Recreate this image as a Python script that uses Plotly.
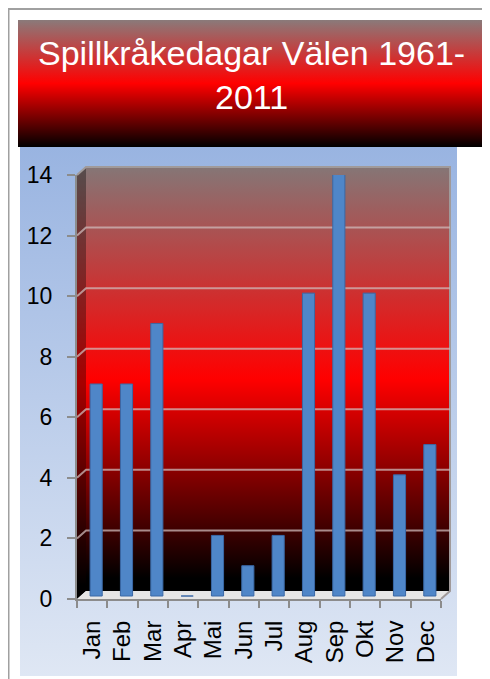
import base64
import plotly.graph_objects as go

# ---- data ----
months = ["Jan", "Feb", "Mar", "Apr", "Mai", "Jun", "Jul", "Aug", "Sep", "Okt", "Nov", "Dec"]
days = [7, 7, 9, 0, 2, 1, 2, 10, 14, 10, 4, 5]
y_ticks = [0, 2, 4, 6, 8, 10, 12, 14]
title_text = "Spillkråkedagar Välen 1961-<br>2011"

# ---- geometry (pixels, figure frame; page body adds an 8px margin) ----
W, H = 482, 671
L, R, T, B = 69, 433, 167, 591          # plot area
PW, PH = R - L, B - T
DX, DY = 9, 8                           # 3D depth offset
YMAX = 14
px_per_unit = PH / YMAX

def svg_background():
    wl, wt, wr, wb = L + DX, T - DY, R + DX, B - DY
    s = f'''<svg xmlns="http://www.w3.org/2000/svg" width="{W}" height="{H}" viewBox="0 0 {W} {H}">
<defs>
<linearGradient id="tg" x1="0" y1="0" x2="0" y2="1">
<stop offset="0" stop-color="#8a7a7a"/><stop offset="0.5" stop-color="#ff0000"/><stop offset="1" stop-color="#000000"/>
</linearGradient>
<linearGradient id="bg" x1="0" y1="0" x2="0" y2="1">
<stop offset="0" stop-color="#99b4e1"/><stop offset="1" stop-color="#dfe7f4"/>
</linearGradient>
<linearGradient id="wg" x1="0" y1="0" x2="0" y2="1">
<stop offset="0" stop-color="#857676"/><stop offset="0.5" stop-color="#ff0000"/><stop offset="0.97" stop-color="#000000"/><stop offset="1" stop-color="#000000"/>
</linearGradient>
</defs>
<rect x="12" y="139" width="437" height="529" fill="url(#bg)"/>
<rect x="10" y="12" width="466" height="127" fill="url(#tg)"/>
<rect x="{wl}" y="{wt}" width="{wr-wl}" height="{wb-wt}" fill="url(#wg)"/>
<polygon points="{L},{T} {wl},{wt} {wl},{wb} {L},{B}" fill="url(#wg)"/>
<polygon points="{L},{T} {wl},{wt} {wl},{wb} {L},{B}" fill="#000" fill-opacity="0.35"/>
<polygon points="{L},{B} {wl},{wb} {wr},{wb} {R},{B}" fill="#e6e6e6"/>
<polyline points="{L},{T} {wl},{wt} {wr},{wt} {wr},{wb} {R},{B}" fill="none" stroke="#a09a9a" stroke-width="2"/>
<polyline points="0.5,{H} 0.5,1 {W},1" fill="none" stroke="#a0a0a0" stroke-width="2"/>
</svg>'''
    return "data:image/svg+xml;base64," + base64.b64encode(s.encode("utf-8")).decode()

fig = go.Figure()
fig.add_trace(go.Bar(
    x=months, y=days,
    base=3 / px_per_unit,
    width=0.4, offset=-0.2 + 4 / (PW / len(months)),
    marker=dict(color="#4f86c8", line=dict(color="#3a68a6", width=1)),
    cliponaxis=False,
))

# gridlines on the back wall (3D offset)
shapes = []
for v in y_ticks[1:-1]:
    y1 = v + DY / px_per_unit
    shapes.append(dict(
        type="path", xref="paper", yref="y",
        path=f"M 0,{v} L {DX/PW},{y1} L {(PW+DX)/PW},{y1}",
        line=dict(color="rgba(205,185,185,0.75)", width=2), layer="below",
    ))

fig.update_layout(
    width=W, height=H,
    margin=dict(l=L, r=W - R, t=T, b=H - B, pad=0),
    paper_bgcolor="white", plot_bgcolor="rgba(0,0,0,0)",
    showlegend=False,
    font=dict(family="Liberation Sans, Arial, sans-serif", color="black"),
    annotations=[dict(text=title_text, showarrow=False, xref="paper", yref="paper",
                      x=(243 - L) / PW, y=(B - 67) / PH, xanchor="center", yanchor="middle",
                      align="center",
                      font=dict(size=34, color="white", family="Liberation Sans, Arial, sans-serif"))],
    images=[dict(source=svg_background(), xref="paper", yref="paper",
                 x=-L / PW, y=B / PH, sizex=W / PW, sizey=H / PH,
                 xanchor="left", yanchor="top", sizing="stretch", layer="below")],
    shapes=shapes,
    xaxis=dict(type="category", tickson="boundaries", ticks="outside", ticklen=7,
               tickcolor="#8c8c8c", tickwidth=2, showline=True, linecolor="#8c8c8c", linewidth=2,
               showgrid=False, tickangle=-90, tickfont=dict(size=24),
               ticklabelstandoff=10, range=[-0.5, 11.5], fixedrange=True),
    yaxis=dict(range=[0, YMAX], tickvals=y_ticks, ticks="outside", ticklen=8,
               tickcolor="#8c8c8c", tickwidth=2, showline=True, linecolor="#8c8c8c", linewidth=2,
               showgrid=False, zeroline=False, tickfont=dict(size=23),
               ticklabelstandoff=10, fixedrange=True),
)

fig.write_html("out.html")
